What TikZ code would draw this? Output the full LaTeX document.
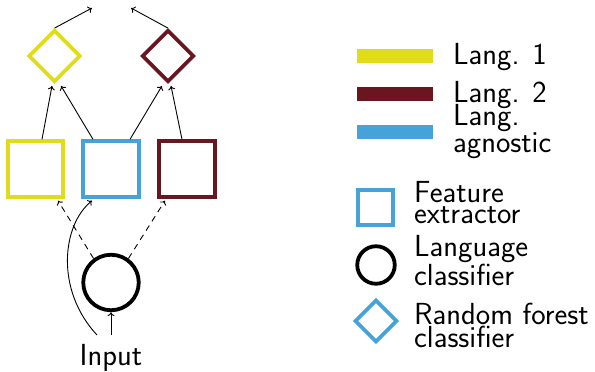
\documentclass[tikz,border=0pt]{standalone}
\usetikzlibrary{shapes.geometric,arrows.meta}
\definecolor{cyel}{RGB}{224,220,25}
\definecolor{cred}{RGB}{106,22,32}
\definecolor{cblu}{RGB}{70,163,217}
\begin{document}
\begin{tikzpicture}[x=1pt,y=-1pt,
  font=\sffamily\fontsize{30.5}{20.5}\selectfont,
  fbox/.style={draw,line width=3.8pt,rectangle,minimum size=55.5pt,inner sep=0pt},
  rdia/.style={draw,line width=3.8pt,diamond,minimum size=52pt,inner sep=0pt},
  lcirc/.style={draw,line width=3.8pt,circle,minimum size=55.5pt,inner sep=0pt},
  arr/.style={line width=0.9pt,-{To[length=4pt,width=7pt]}},
  bar/.style={rectangle,inner sep=0pt,minimum width=76pt,minimum height=14pt},
  ltext/.style={anchor=base west,align=left,inner sep=0pt}]
\useasboundingbox (0,0) rectangle (595,372);
% main diagram
\node[fbox,cyel] (yb) at (35.5,169) {};
\node[fbox,cblu] (bb) at (111,169) {};
\node[fbox,cred] (rb) at (187,169) {};
\node[rdia,cyel] (yd) at (54.5,56) {};
\node[rdia,cred] (rd) at (168,56) {};
\node[lcirc] (lc) at (111,282.5) {};
\node[anchor=base,inner sep=0pt] (inp) at (111,365) {Input};
\coordinate (t1) at (92,8);
\coordinate (t2) at (131,8);
\coordinate (s1) at (111,335);
\coordinate (s2) at (97,335);
\draw[arr] (yd.north) -- (t1);
\draw[arr] (rd.north) -- (t2);
\draw[arr] ([xshift=6.5pt]yb.north) -- ([xshift=-2.5pt,yshift=-2pt]yd.south);
\draw[arr] ([xshift=-18pt]bb.north) -- ([xshift=6.5pt,yshift=-2pt]yd.south);
\draw[arr] ([xshift=19pt]bb.north) -- ([xshift=-6pt,yshift=-2pt]rd.south);
\draw[arr] ([xshift=-5pt]rb.north) -- ([xshift=3pt,yshift=-2pt]rd.south);
\draw[arr,dash pattern=on 6pt off 5pt] (lc.126) -- ([xshift=22.5pt,yshift=-2pt]yb.south);
\draw[arr,dash pattern=on 6pt off 5pt] (lc.54) -- ([xshift=-22pt,yshift=-2pt]rb.south);
\draw[arr] (s1) -- (lc.south);
\draw[arr] (s2) .. controls (55,290) and (62,225) .. ([xshift=-19pt,yshift=-2pt]bb.south);
% legend
\node[bar,fill=cyel] (l1) at (395,56) {};
\node[bar,fill=cred] (l2) at (395,94) {};
\node[bar,fill=cblu] (l3) at (395,132) {};
\node[ltext] (lt1) at (453,64) {Lang. 1};
\node[ltext] (lt2) at (453,102) {Lang. 2};
\node[ltext] (lt3) at (453,152) {Lang.\\agnostic};
\node[draw=cblu,line width=3.8pt,rectangle,minimum size=35.5pt,inner sep=0pt] (ls) at (375.5,207.5) {};
\node[draw,line width=3.8pt,circle,minimum size=37.5pt,inner sep=0pt] (lcl) at (376,265) {};
\node[draw=cblu,line width=3.8pt,diamond,minimum size=42.5pt,inner sep=0pt] (ld) at (376,321) {};
\node[ltext] (lt4) at (414,223) {Feature\\extractor};
\node[ltext] (lt5) at (414,285) {Language\\classifier};
\node[ltext] (lt6) at (414,347) {Random forest\\classifier};
\end{tikzpicture}
\end{document}
